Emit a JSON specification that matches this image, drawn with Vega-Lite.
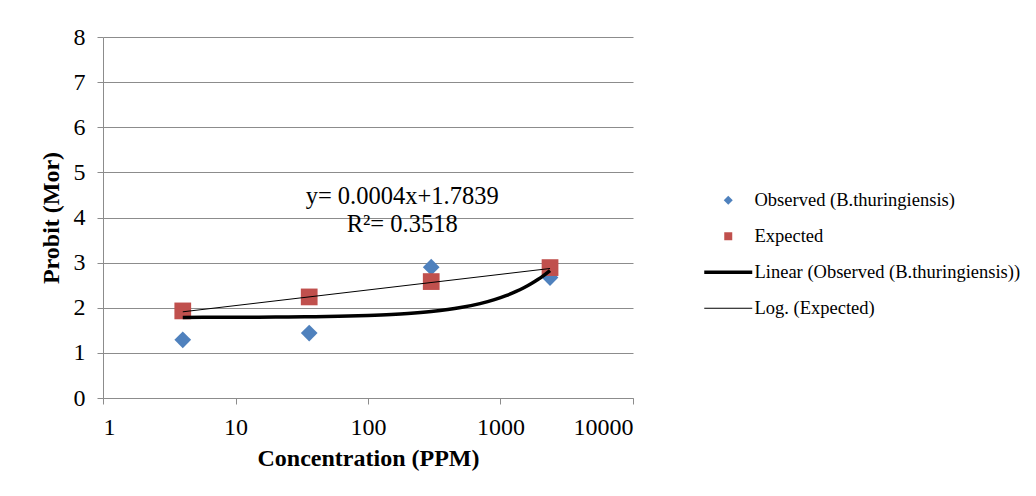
{
  "$schema": "https://vega.github.io/schema/vega-lite/v6.json",
  "width": 530,
  "height": 361,
  "autosize": "none",
  "padding": {"left": 103, "top": 37, "right": 403, "bottom": 98},
  "background": "white",
  "config": {
    "font": "Liberation Serif",
    "view": {"stroke": null},
    "axis": {
      "labelFont": "Liberation Serif",
      "titleFont": "Liberation Serif",
      "labelColor": "#000000",
      "titleColor": "#000000",
      "labelFontSize": 24,
      "titleFontSize": 24,
      "titleFontWeight": "bold",
      "domainColor": "#8c8c8c",
      "tickColor": "#8c8c8c",
      "gridColor": "#8c8c8c",
      "tickSize": 6,
      "domainWidth": 1,
      "gridWidth": 1
    }
  },
  "datasets": {
    "pts": [
      {"conc": 4, "probit": 1.29, "series": "Observed (B.thuringiensis)"},
      {"conc": 36, "probit": 1.44, "series": "Observed (B.thuringiensis)"},
      {"conc": 300, "probit": 2.9, "series": "Observed (B.thuringiensis)"},
      {"conc": 2365, "probit": 2.67, "series": "Observed (B.thuringiensis)"},
      {"conc": 4, "probit": 1.93, "series": "Expected"},
      {"conc": 36, "probit": 2.24, "series": "Expected"},
      {"conc": 300, "probit": 2.58, "series": "Expected"},
      {"conc": 2365, "probit": 2.89, "series": "Expected"}
    ],
    "lin": [
      {"conc": 4, "probit": 1.786, "series": "Linear (Observed (B.thuringiensis))"},
      {"conc": 8, "probit": 1.788, "series": "Linear (Observed (B.thuringiensis))"},
      {"conc": 15, "probit": 1.791, "series": "Linear (Observed (B.thuringiensis))"},
      {"conc": 25, "probit": 1.795, "series": "Linear (Observed (B.thuringiensis))"},
      {"conc": 40, "probit": 1.802, "series": "Linear (Observed (B.thuringiensis))"},
      {"conc": 60, "probit": 1.81, "series": "Linear (Observed (B.thuringiensis))"},
      {"conc": 100, "probit": 1.828, "series": "Linear (Observed (B.thuringiensis))"},
      {"conc": 150, "probit": 1.85, "series": "Linear (Observed (B.thuringiensis))"},
      {"conc": 200, "probit": 1.872, "series": "Linear (Observed (B.thuringiensis))"},
      {"conc": 300, "probit": 1.916, "series": "Linear (Observed (B.thuringiensis))"},
      {"conc": 400, "probit": 1.96, "series": "Linear (Observed (B.thuringiensis))"},
      {"conc": 500, "probit": 2.004, "series": "Linear (Observed (B.thuringiensis))"},
      {"conc": 700, "probit": 2.092, "series": "Linear (Observed (B.thuringiensis))"},
      {"conc": 900, "probit": 2.18, "series": "Linear (Observed (B.thuringiensis))"},
      {"conc": 1100, "probit": 2.268, "series": "Linear (Observed (B.thuringiensis))"},
      {"conc": 1300, "probit": 2.356, "series": "Linear (Observed (B.thuringiensis))"},
      {"conc": 1500, "probit": 2.444, "series": "Linear (Observed (B.thuringiensis))"},
      {"conc": 1700, "probit": 2.532, "series": "Linear (Observed (B.thuringiensis))"},
      {"conc": 1900, "probit": 2.62, "series": "Linear (Observed (B.thuringiensis))"},
      {"conc": 2100, "probit": 2.708, "series": "Linear (Observed (B.thuringiensis))"},
      {"conc": 2365, "probit": 2.825, "series": "Linear (Observed (B.thuringiensis))"}
    ],
    "logt": [
      {"conc": 4, "probit": 1.91, "series": "Log. (Expected)"},
      {"conc": 2365, "probit": 2.87, "series": "Log. (Expected)"}
    ],
    "notes": [
      {"conc": 181, "probit": 4.45, "label": "y= 0.0004x+1.7839"},
      {"conc": 181, "probit": 3.83, "label": "R²= 0.3518"}
    ]
  },
  "encoding": {
    "x": {
      "field": "conc",
      "type": "quantitative",
      "scale": {"type": "log", "domain": [1, 10000], "nice": false},
      "axis": {
        "title": "Concentration (PPM)",
        "values": [1, 10, 100, 1000, 10000],
        "format": "d",
        "grid": false,
        "labelPadding": 11,
        "titlePadding": 7
      }
    },
    "y": {
      "field": "probit",
      "type": "quantitative",
      "scale": {"domain": [0, 8], "nice": false, "zero": false},
      "axis": {
        "title": "Probit (Mor)",
        "values": [0, 1, 2, 3, 4, 5, 6, 7, 8],
        "grid": true,
        "labelPadding": 12,
        "titlePadding": 10
      }
    },
    "color": {
      "field": "series",
      "type": "nominal",
      "scale": {
        "domain": ["Observed (B.thuringiensis)", "Expected", "Linear (Observed (B.thuringiensis))", "Log. (Expected)"],
        "range": ["#4f81bd", "#c0504d", "#000000", "#000000"]
      },
      "legend": {
        "title": null,
        "orient": "none",
        "legendX": 598,
        "legendY": 154,
        "padding": 0,
        "symbolSize": 100,
        "symbolStrokeWidth": 1.5,
        "symbolOffset": 18,
        "labelOffset": 17,
        "labelFont": "Liberation Serif",
        "labelFontSize": 18.5,
        "labelColor": "#000000",
        "labelLimit": 400,
        "rowPadding": 17,
        "encode": {
          "symbols": {
            "update": {
              "shape": {"signal": "datum.value == 'Observed (B.thuringiensis)' ? 'diamond' : (datum.value == 'Expected' ? 'square' : 'stroke')"},
              "size": {"signal": "datum.value == 'Observed (B.thuringiensis)' ? 81 : (datum.value == 'Expected' ? 64 : 2304)"},
              "strokeWidth": {"signal": "datum.value == 'Linear (Observed (B.thuringiensis))' ? 3.5 : (datum.value == 'Log. (Expected)' ? 1 : 0)"},
              "fill": {"signal": "scale('color', datum.value)"},
              "stroke": {"signal": "scale('color', datum.value)"},
              "opacity": {"value": 1},
              "fillOpacity": {"value": 1},
              "strokeOpacity": {"value": 1}
            }
          }
        }
      }
    }
  },
  "layer": [
    {
      "data": {"name": "pts"},
      "mark": {"type": "point", "filled": true, "size": 280, "opacity": 1},
      "encoding": {
        "shape": {
          "field": "series",
          "type": "nominal",
          "scale": {"domain": ["Observed (B.thuringiensis)", "Expected"], "range": ["diamond", "square"]},
          "legend": null
        }
      }
    },
    {
      "data": {"name": "lin"},
      "mark": {"type": "line", "strokeWidth": 3.5, "interpolate": "monotone"},
      "encoding": {}
    },
    {
      "data": {"name": "logt"},
      "mark": {"type": "line", "strokeWidth": 1},
      "encoding": {}
    },
    {
      "data": {"name": "notes"},
      "mark": {"type": "text", "font": "Liberation Serif", "fontSize": 24.5, "align": "center", "baseline": "middle", "color": "#000000"},
      "encoding": {
        "text": {"field": "label"},
        "color": {"value": "#000000"}
      }
    }
  ]
}
